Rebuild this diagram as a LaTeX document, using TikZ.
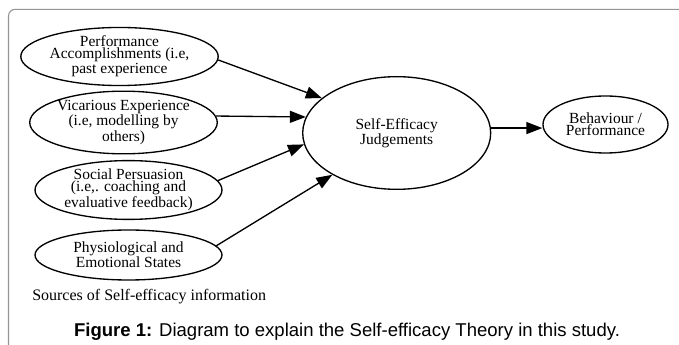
\documentclass[tikz,border=0pt]{standalone}
\usepackage{fontspec}
\setmainfont{Liberation Serif}
\newfontfamily\capfont{Liberation Sans}
\usetikzlibrary{arrows.meta,calc,shapes.geometric}
\tikzset{
  src/.style={draw, ellipse, line width=1pt, inner sep=0pt, align=center,
    font=\fontsize{11.6}{9}\selectfont},
  arr/.style={line width=1pt, -{Triangle[length=12pt,width=9pt]}},
  frame/.style={draw=black!42, line width=0.8pt, rounded corners=5pt}
}
\begin{document}
\begin{tikzpicture}[x=0.75pt,y=-0.75pt]
\useasboundingbox (0,0) rectangle (679,345);
\draw[frame] (8.5,345) -- (8.5,9.3) -- (679,9.3);

\node[src, minimum width=140.25pt, minimum height=42.75pt] (e1) at (119.5,56.5)
  {Performance\\Accomplishments (i.e,\\past experience};
\node[src, minimum width=140.25pt, minimum height=44.25pt] (e2) at (123.5,122.5)
  {Vicarious Experience\\(i.e, modelling by\\others)};
\node[src, minimum width=140.25pt, minimum height=40.5pt] (e3) at (128.5,190)
  {Social Persuasion\\(i.e,. coaching and\\evaluative feedback)};
\node[src, minimum width=140.25pt, minimum height=37.5pt] (e4) at (128.5,255)
  {Physiological and\\Emotional States};
\node[src, minimum width=141pt, minimum height=84.5pt] (main) at (396.7,133)
  {Self-Efficacy\\Judgements};
\node[src, minimum width=93.75pt, minimum height=42.75pt] (beh) at (605.5,124.5)
  {Behaviour /\\Performance};

\draw[arr] (e1.-2) -- (main.155);
\draw[arr] (e2.4) -- (main.170);
\draw[arr] (e3.6) -- (main.187);
\draw[arr] (e4.6) -- (main.213);
\draw[arr] (main.3) -- (main.3 -| beh.west);

\node[anchor=base west, inner sep=0pt, font=\fontsize{12}{14}\selectfont] (src) at (32,300.7)
  {Sources of Self-efficacy information};
\node[anchor=base, inner sep=0pt, font=\capfont\fontsize{13.9}{16}\selectfont] (cap) at (347,336.5)
  {\textbf{Figure 1:} Diagram to explain the Self-efficacy Theory in this study.};
\end{tikzpicture}
\end{document}
